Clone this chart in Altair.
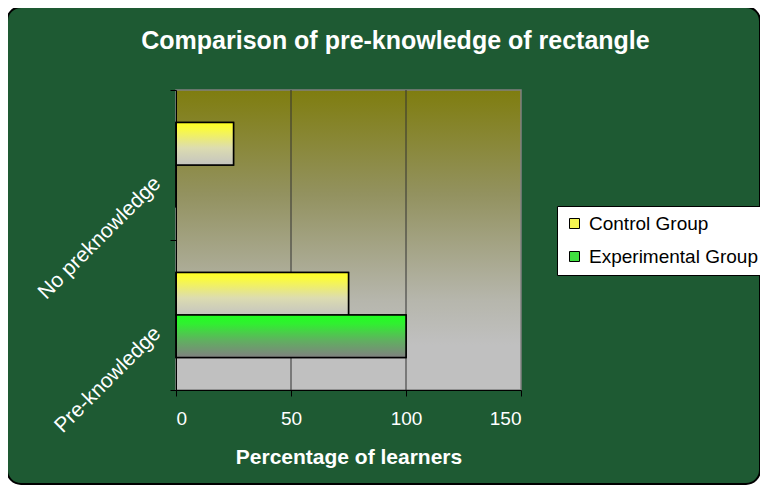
import altair as alt
import pandas as pd

# ---- data ----
categories = ["No preknowledge", "Pre-knowledge"]
groups = ["Control Group", "Experimental Group"]
control_values = [25, 75]
experimental_values = [0, 100]
x_ticks = [0, 50, 100, 150]
grid_values = [50, 100]

rows = []
for cat, v in zip(categories, control_values):
    rows.append({"category": cat, "group": groups[0], "value": v})
for cat, v in zip(categories, experimental_values):
    rows.append({"category": cat, "group": groups[1], "value": v})
df = pd.DataFrame(rows)

W, H = 345, 300
FONT = "Liberation Sans"

x_scale = alt.Scale(domain=[0, 150], nice=False, zero=True)
y_scale = alt.Scale(domain=categories, paddingInner=0, paddingOuter=0)
yoff_scale = alt.Scale(domain=groups, paddingInner=0, paddingOuter=0.7647)

x_axis = alt.Axis(values=x_ticks, title="Percentage of learners", grid=False,
                  domainColor="black", tickColor="black", tickSize=6,
                  labelColor="white", labelFontSize=19, labelFont=FONT,
                  titleColor="white", titleFontSize=21, titleFont=FONT,
                  titleFontWeight="bold", labelPadding=13, titlePadding=18,
                  zindex=1)
y_axis = alt.Axis(title=None, labelAngle=-45, labelAlign="right",
                  labelBaseline="middle", labelColor="white", labelFontSize=21,
                  labelFont=FONT, tickBand="extent", domainColor="black",
                  tickColor="black", tickSize=6, labelPadding=13,
                  labelOffset=15, zindex=1, grid=False, labelLimit=300)

def xq(field):
    return alt.X(f"{field}:Q", scale=x_scale, axis=x_axis)

# decorative frame (rounded, dark green)
frame = alt.Chart(pd.DataFrame({"k": [0]})).mark_rect(
    fill="#1e5a33", stroke="black", strokeWidth=2, cornerRadius=14
).encode(x=alt.value(-169), x2=alt.value(584), y=alt.value(-83), y2=alt.value(394))

plot_grad = alt.Gradient(
    gradient="linear", x1=0, y1=0, x2=0, y2=1,
    stops=[alt.GradientStop(offset=0, color="#7f7d0f"),
           alt.GradientStop(offset=0.35, color="#939260"),
           alt.GradientStop(offset=0.7, color="#b6b6ac"),
           alt.GradientStop(offset=0.85, color="#c0c0c0"),
           alt.GradientStop(offset=1, color="#c0c0c0")])
plot_bg = alt.Chart(pd.DataFrame({"k": [0]})).mark_rect(
    fill=plot_grad, stroke="#808080", strokeWidth=1.5
).encode(x=alt.value(0), x2=alt.value(W), y=alt.value(0), y2=alt.value(H))

grid = alt.Chart(pd.DataFrame({"g": grid_values})).mark_rule(
    color="#333333", strokeWidth=1
).encode(x=xq("g"))

base = alt.Chart(df).encode(
    y=alt.Y("category:N", scale=y_scale, axis=y_axis, sort=categories),
    x=xq("value"),
    yOffset=alt.YOffset("group:N", scale=yoff_scale, sort=groups),
)

bars = base.mark_bar(stroke="black", strokeWidth=1.5).encode(
    color=alt.Color("group:N",
                    scale=alt.Scale(domain=groups, range=["#f4f450", "#40e040"]),
                    legend=alt.Legend(title=None, orient="none", legendX=381, legendY=116,
                                      fillColor="white", strokeColor="black",
                                      padding=8, labelFontSize=19, labelFont=FONT,
                                      labelColor="black", symbolType="square",
                                      symbolSize=100, symbolStrokeColor="black",
                                      symbolStrokeWidth=1, rowPadding=13,
                                      labelOffset=5, zindex=1, cornerRadius=0,
                                      labelLimit=300))
)

ctrl_grad = alt.Gradient(
    gradient="linear", x1=0, y1=0, x2=0, y2=1,
    stops=[alt.GradientStop(offset=0, color="#ffff20"),
           alt.GradientStop(offset=0.15, color="#fafa40"),
           alt.GradientStop(offset=0.6, color="#dcdcb0"),
           alt.GradientStop(offset=1, color="#c4c4c0")])
exp_grad = alt.Gradient(
    gradient="linear", x1=0, y1=0, x2=0, y2=1,
    stops=[alt.GradientStop(offset=0, color="#20ff20"),
           alt.GradientStop(offset=0.2, color="#30f030"),
           alt.GradientStop(offset=0.6, color="#60b060"),
           alt.GradientStop(offset=1, color="#808080")])

ctrl = base.transform_filter(alt.datum.group == groups[0]).mark_bar(
    fill=ctrl_grad, stroke="black", strokeWidth=1.5)
exp = base.transform_filter(alt.datum.group == groups[1]).mark_bar(
    fill=exp_grad, stroke="black", strokeWidth=1.5)

chart = alt.layer(frame, plot_bg, grid, bars, ctrl, exp).properties(
    width=W, height=H,
    autosize=alt.AutoSizeParams(type="none"),
    padding={"left": 168, "top": 82, "right": 239, "bottom": 95},
    background="white",
    title=alt.Title("Comparison of pre-knowledge of rectangle", fontSize=25,
                    font=FONT, fontWeight="bold", color="white",
                    anchor="middle", frame="group", dx=47, offset=-48),
).configure_view(stroke="transparent")

chart.save("out.html", embed_options={"renderer": "svg", "actions": False})
